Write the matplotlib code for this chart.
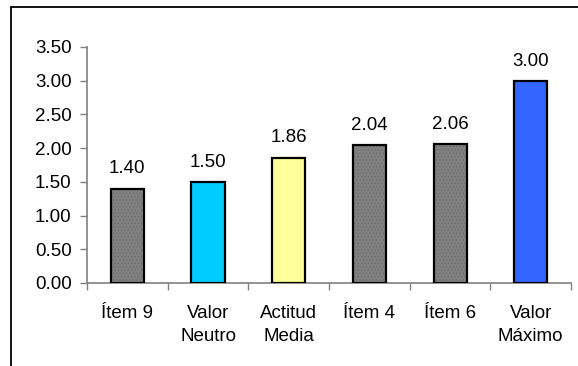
import matplotlib.pyplot as plt
from matplotlib.patches import Rectangle
import numpy as np

plt.rcParams['font.family'] = ['Liberation Sans', 'DejaVu Sans']

categorias = ['Ítem 9', 'Valor\nNeutro', 'Actitud\nMedia', 'Ítem 4', 'Ítem 6', 'Valor\nMáximo']
valores = [1.40, 1.50, 1.86, 2.04, 2.06, 3.00]
colores = ['#808080', '#00ccff', '#ffff99', '#808080', '#808080', '#3366ff']
texturas = ['.....', '', '', '.....', '.....', '']

fig = plt.figure(figsize=(5.78, 3.66), dpi=100)
ax = fig.add_axes([0.1505, 0.2268, 0.8375, 0.6448])

# marco exterior del grafico
fig.patches.append(Rectangle((0.019, -0.2), 1.2, 1.181, transform=fig.transFigure,
                             fill=False, edgecolor='black', linewidth=1.3))

x = np.arange(len(valores))
plt.rcParams['hatch.linewidth'] = 0.6
ax.bar(x, valores, width=0.41, color=colores, linewidth=0, zorder=2)
for xi, v, t in zip(x, valores, texturas):
    if t:
        ax.bar(xi, v, width=0.41, color='none', edgecolor='#6e6e6e', linewidth=0,
               hatch=t, zorder=3)
ax.bar(x, valores, width=0.41, color='none', edgecolor='black', linewidth=1.6, zorder=4)

fs = 13.5
for xi, v in zip(x, valores):
    ax.annotate(f'{v:.2f}', (xi, v), xytext=(0, 8), textcoords='offset points',
                ha='center', va='bottom', fontsize=fs)

ax.set_xlim(-0.5, 5.5)
ax.set_ylim(0, 3.5)
ax.set_yticks(np.arange(0, 3.51, 0.5))
ax.set_yticklabels([f'{t:.2f}' for t in np.arange(0, 3.51, 0.5)], fontsize=fs)
ax.set_xticks(x)
ax.set_xticklabels(categorias, fontsize=fs, linespacing=1.5, va='top')
ax.set_xticks(np.arange(-0.5, 5.6, 1), minor=True)
ax.tick_params(axis='x', which='major', length=0, pad=15.5)
ax.tick_params(axis='x', which='minor', length=5, color='#808080', width=1)
ax.tick_params(axis='y', length=5, color='#808080', width=1, pad=6)

for s in ['top', 'right']:
    ax.spines[s].set_visible(False)
for s in ['left', 'bottom']:
    ax.spines[s].set_color('#808080')
    ax.spines[s].set_linewidth(1.2)

fig.savefig('out.png', dpi=100)
